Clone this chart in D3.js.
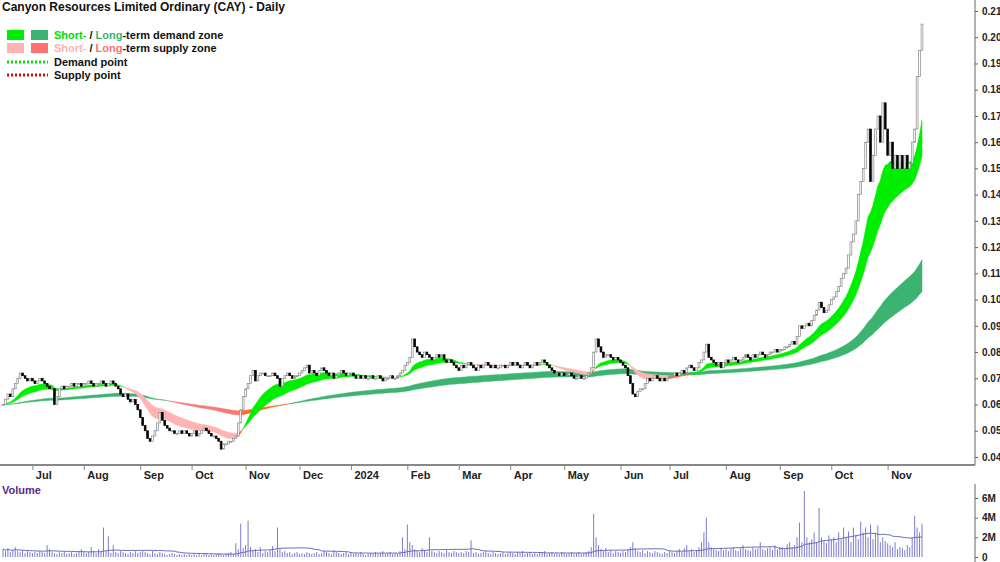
<!DOCTYPE html>
<html lang="en">
<head>
<meta charset="UTF-8">
<title>Canyon Resources Limited Ordinary (CAY) - Daily</title>
<script src="https://d3js.org/d3.v7.min.js"></script>
<style>
  body { margin: 0; background: #fff; font-family: Arial, "Liberation Sans", sans-serif; }
  text { font-family: Arial, "Liberation Sans", sans-serif; }
</style>
</head>
<body>
<svg id="chart" width="1000" height="562"></svg>
<script>
// daily closes, one line per month (Jun 14 2023 .. Nov 20 2024)
const closes = [
  .060,.062,.064,.063,.066,.068,.070,.072,.071,.070,.069,.070,.069,
  .068,.069,.070,.069,.068,.067,.066,.066,.060,.063,.066,.067,.066,.067,.067,.068,.067,.068,.068,.067,.068,
  .068,.069,.068,.067,.068,.068,.069,.068,.067,.068,.069,.068,.067,.066,.064,.063,.064,.062,.061,.062,.060,.058,.055,
  .052,.050,.047,.046,.048,.050,.053,.057,.054,.052,.051,.050,.050,.049,.049,.050,.049,.050,.049,.048,.049,
  .050,.048,.049,.050,.051,.050,.049,.048,.048,.047,.046,.043,.045,.045,.046,.046,.047,.048,.053,.058,.063,.066,
  .068,.071,.073,.069,.071,.072,.072,.071,.071,.071,.072,.071,.070,.067,.070,.071,.072,.071,.070,.071,.071,.072,
  .073,.074,.075,.072,.073,.072,.071,.073,.074,.073,.072,.071,.072,.070,.071,.072,.073,.072,.071,.072,.072,
  .071,.070,.071,.070,.071,.070,.070,.071,.070,.070,.071,.070,.069,.070,.070,.071,.070,.070,.071,.072,.073,.075,.076,
  .078,.085,.082,.080,.079,.078,.080,.079,.078,.077,.078,.079,.078,.079,.077,.076,.077,.076,.075,.074,.073,
  .075,.074,.075,.076,.075,.074,.073,.075,.074,.075,.076,.075,.074,.075,.074,.074,.075,.075,.074,.075,.076,
  .075,.076,.075,.074,.075,.076,.075,.074,.075,.076,.075,.076,.077,.076,.075,.074,.073,.072,.072,.071,.072,.071,
  .071,.072,.071,.070,.070,.071,.070,.070,.071,.072,.074,.080,.085,.082,.080,.078,.079,.079,.078,.077,.078,.077,.076,
  .075,.074,.071,.068,.064,.063,.065,.066,.066,.068,.070,.069,.070,.071,.070,.069,.070,.069,.070,.071,
  .071,.072,.071,.072,.073,.072,.074,.075,.074,.073,.074,.076,.077,.080,.083,.078,.077,.076,.075,.076,.074,.076,.077,
  .076,.077,.078,.077,.076,.077,.078,.079,.078,.077,.079,.078,.079,.080,.079,.078,.079,.080,.080,.081,.080,.081,
  .081,.082,.082,.083,.084,.083,.086,.090,.089,.090,.091,.090,.092,.094,.096,.099,.097,.095,.096,.098,.100,
  .101,.103,.105,.108,.110,.112,.117,.122,.125,.130,.140,.145,.150,.160,.165,.145,.155,.165,.170,.160,.175,.165,.155,
  .160,.150,.155,.150,.155,.150,.155,.150,.152,.160,.165,.185,.195,.205
];
// daily volume, millions
const volumes = [
  .8,.6,.9,.5,.7,1.0,.6,.5,.7,.4,.6,.5,.4,
  .5,.4,.6,.5,.4,1.2,.8,.5,.4,.3,.5,.4,.6,.3,.4,.5,.3,.4,.6,.8,.5,
  .4,.5,1.0,.6,.4,.8,.5,3.0,.6,2.1,.4,1.2,.5,.4,.6,.5,.4,.3,.5,.4,.6,.4,.5,
  .6,.5,.4,.3,.6,.4,.3,.5,.4,.3,.2,.3,.4,.3,.2,.3,.2,.3,.2,.3,.2,
  .3,.2,.3,.2,.3,.4,.2,.3,.2,.3,.4,.3,.2,.3,.4,.5,.3,1.4,.8,3.4,.9,1.2,
  3.7,1.0,.6,.8,.5,1.0,.4,.6,.5,.7,1.1,.6,3.0,.8,.5,.6,.4,.5,.3,.4,.5,.3,
  .4,.3,.5,.4,.3,.4,.5,.3,.4,.6,.5,.4,.3,.7,.5,.4,.3,.4,.5,.3,.4,
  .3,.4,.3,.5,.3,.2,.3,.4,.3,.5,.3,.4,.6,.3,.4,.5,.3,.4,.3,.6,2.0,.8,3.3,
  1.5,1.2,.8,.6,.5,.9,.7,.5,2.0,.6,.5,.4,.6,.5,.4,.7,.5,.4,.6,.5,.4,
  .5,.4,.6,.5,1.7,.4,.5,.3,.4,.5,.6,.4,.3,.5,.4,.3,.4,.5,.3,.4,.5,
  .4,.3,.5,.4,.6,.3,.4,.5,.3,.4,.3,.5,.4,.6,.3,.4,.5,.3,.4,.3,.5,.4,
  .3,.4,.5,.3,.4,.5,.3,.4,.5,.6,1.0,4.4,2.0,1.2,.8,.6,.9,.5,.7,.4,.6,.5,.4,
  .6,.5,.8,1.0,1.5,.9,.6,.5,.7,.4,.6,.5,.4,.6,.5,.4,.3,.5,.4,.6,
  .5,.4,.6,.8,.5,.9,1.2,.6,.8,.5,.7,1.0,1.5,2.5,4.0,1.5,1.0,.8,.7,.6,.9,.7,.8,
  .6,.8,1.0,.7,.6,.9,1.2,.8,.7,.6,1.0,.8,.9,1.5,.8,.7,.9,1.0,.7,1.2,.8,1.0,
  1.0,.8,1.3,1.5,1.0,1.2,2.0,3.5,1.5,6.7,2.0,1.5,1.8,2.5,1.5,5.0,2.0,1.6,1.4,2.2,1.8,
  2.0,1.5,2.5,1.8,3.0,2.0,2.6,1.5,3.0,2.2,1.8,3.6,2.5,3.0,2.0,3.3,1.8,2.4,3.2,1.5,2.0,1.6,1.4,
  1.2,1.0,1.5,.8,1.0,.9,.7,1.2,1.0,2.0,4.2,3.0,2.5,3.4
];
const priceTicks = [0.04,0.05,0.06,0.07,0.08,0.09,0.10,0.11,0.12,0.13,0.14,0.15,0.16,0.17,0.18,0.19,0.20,0.21];
const volumeTicks = [0, 2, 4, 6];
const startDate = new Date(2023, 5, 14);

// trading days (weekdays) from the start date
const dates = [];
for (let d = new Date(startDate); dates.length < closes.length; d.setDate(d.getDate() + 1)) {
  if (d.getDay() !== 0 && d.getDay() !== 6) dates.push(new Date(d));
}

function ema(arr, n) {
  const k = 2 / (n + 1), out = [];
  arr.forEach((v, i) => out.push(i ? v * k + out[i - 1] * (1 - k) : v));
  return out;
}
const sFast = ema(closes, 15), sSlow = ema(closes, 30);
const lFast = ema(closes, 110), lSlow = ema(closes, 170);
const volMA = volumes.map((v, i) => d3.mean(volumes.slice(Math.max(0, i - 29), i + 1)));

const svg = d3.select('#chart');
const axisX = 975;
const x = d3.scaleLinear().domain([0, closes.length - 1]).range([3, 922]);
const y = d3.scaleLinear().domain([0.04, 0.21]).range([457, 11]);
const yv = d3.scaleLinear().domain([0, 6]).range([557, 498]);

// zones: contiguous polygons per run of one colour
function zone(fast, slow, demandCol, supplyAbove, supplyBelow) {
  const colOf = i => fast[i] >= slow[i] ? demandCol
    : (closes[i] > Math.max(fast[i], slow[i]) ? supplyAbove : supplyBelow);
  let start = 0;
  for (let i = 1; i <= closes.length; i++) {
    if (i === closes.length || colOf(i) !== colOf(start)) {
      const end = Math.min(i, closes.length - 1);
      const idx = d3.range(start, end + 1);
      const pts = idx.map(j => [x(j), y(fast[j])]).concat(idx.slice().reverse().map(j => [x(j), y(slow[j])]));
      svg.append('path').attr('d', 'M' + pts.join('L') + 'Z')
        .attr('fill', colOf(start)).attr('stroke', colOf(start)).attr('stroke-width', 0.5);
      start = i;
    }
  }
}
zone(lFast, lSlow, '#3cb371', '#ff6a2a', '#f87878');
zone(sFast, sSlow, '#00ee00', '#ff6a2a', '#ffb3b3');

// candles (open = previous close)
const bw = 1.8;
closes.forEach((c, i) => {
  const o = i ? closes[i - 1] : c;
  const up = c >= o;
  const top = y(Math.max(o, c)), bot = y(Math.min(o, c));
  svg.append('rect')
    .attr('x', x(i) - bw / 2).attr('y', top)
    .attr('width', bw).attr('height', Math.max(1, bot - top))
    .attr('fill', up ? '#fff' : '#000')
    .attr('stroke', up ? '#888' : '#000').attr('stroke-width', 0.7);
});

// axes frame
svg.append('line').attr('x1', axisX).attr('x2', axisX).attr('y1', 0).attr('y2', 465).attr('stroke', '#666');
svg.append('line').attr('x1', 0).attr('x2', axisX).attr('y1', 465).attr('y2', 465).attr('stroke', '#888').attr('stroke-width', 2);
svg.append('line').attr('x1', axisX).attr('x2', axisX).attr('y1', 484).attr('y2', 562).attr('stroke', '#666');

function styleAxis(g) {
  g.select('.domain').remove();
  g.selectAll('line').attr('stroke', '#666');
  g.selectAll('text').attr('font-size', 10).attr('font-weight', 'bold').attr('fill', '#222').attr('x', 7);
}
svg.append('g').attr('transform', `translate(${axisX},0)`)
  .call(d3.axisRight(y).tickValues(priceTicks).tickFormat(d3.format('.2f')).tickSize(3)).call(styleAxis);
svg.append('g').attr('transform', `translate(${axisX},0)`)
  .call(d3.axisRight(yv).tickValues(volumeTicks).tickFormat(d => d ? d + 'M' : '0').tickSize(3)).call(styleAxis);

// month ticks
const monthStarts = dates.map((d, i) => ({ d, i })).filter((o, k, a) => k > 0 && o.d.getMonth() !== a[k - 1].d.getMonth());
const mg = svg.append('g');
monthStarts.forEach(o => {
  const px = x(o.i) - 2;
  mg.append('line').attr('x1', px).attr('x2', px).attr('y1', 465).attr('y2', 470).attr('stroke', '#888');
  mg.append('text').attr('x', px + 3).attr('y', 479).attr('font-size', 11).attr('font-weight', 'bold').attr('fill', '#222')
    .text(o.d.getMonth() === 0 ? o.d.getFullYear() : d3.timeFormat('%b')(o.d));
});

// volume
svg.append('text').attr('x', 2).attr('y', 494).attr('font-size', 11).attr('font-weight', 'bold').attr('fill', '#5a2a8a').text('Volume');
svg.append('g').selectAll('line').data(volumes).join('line')
  .attr('x1', (d, i) => x(i)).attr('x2', (d, i) => x(i))
  .attr('y1', yv(0)).attr('y2', d => yv(d))
  .attr('stroke', '#7b7bd0').attr('stroke-width', 1);
svg.append('path').datum(volMA)
  .attr('d', d3.line().x((d, i) => x(i)).y(d => yv(d)))
  .attr('fill', 'none').attr('stroke', '#6a6ab8').attr('stroke-width', 1);

// title + legend
svg.append('text').attr('x', 2).attr('y', 11).attr('font-size', 12).attr('font-weight', 'bold').attr('fill', '#111')
  .text('Canyon Resources Limited Ordinary (CAY) - Daily');
const lg = svg.append('g').attr('font-size', 11).attr('font-weight', 'bold');
lg.append('rect').attr('x', 7).attr('y', 30).attr('width', 17).attr('height', 10).attr('fill', '#00ee00');
lg.append('rect').attr('x', 31).attr('y', 30).attr('width', 17).attr('height', 10).attr('fill', '#3cb371');
lg.append('rect').attr('x', 7).attr('y', 43).attr('width', 17).attr('height', 10).attr('fill', '#ffb3b3');
lg.append('rect').attr('x', 31).attr('y', 43).attr('width', 17).attr('height', 10).attr('fill', '#ff7070');
const t1 = lg.append('text').attr('x', 54).attr('y', 39);
t1.append('tspan').attr('fill', '#00dd00').text('Short-');
t1.append('tspan').attr('fill', '#111').text(' / ');
t1.append('tspan').attr('fill', '#3cb371').text('Long');
t1.append('tspan').attr('fill', '#111').text('-term demand zone');
const t2 = lg.append('text').attr('x', 54).attr('y', 52);
t2.append('tspan').attr('fill', '#ffb3b3').text('Short-');
t2.append('tspan').attr('fill', '#111').text(' / ');
t2.append('tspan').attr('fill', '#ff7070').text('Long');
t2.append('tspan').attr('fill', '#111').text('-term supply zone');
lg.append('line').attr('x1', 7).attr('x2', 48).attr('y1', 62).attr('y2', 62).attr('stroke', '#00dd00').attr('stroke-width', 3).attr('stroke-dasharray', '2,2');
lg.append('line').attr('x1', 7).attr('x2', 48).attr('y1', 75).attr('y2', 75).attr('stroke', '#ee0000').attr('stroke-width', 3).attr('stroke-dasharray', '2,2');
lg.append('text').attr('x', 54).attr('y', 66).attr('fill', '#111').text('Demand point');
lg.append('text').attr('x', 54).attr('y', 79).attr('fill', '#111').text('Supply point');
</script>
</body>
</html>
